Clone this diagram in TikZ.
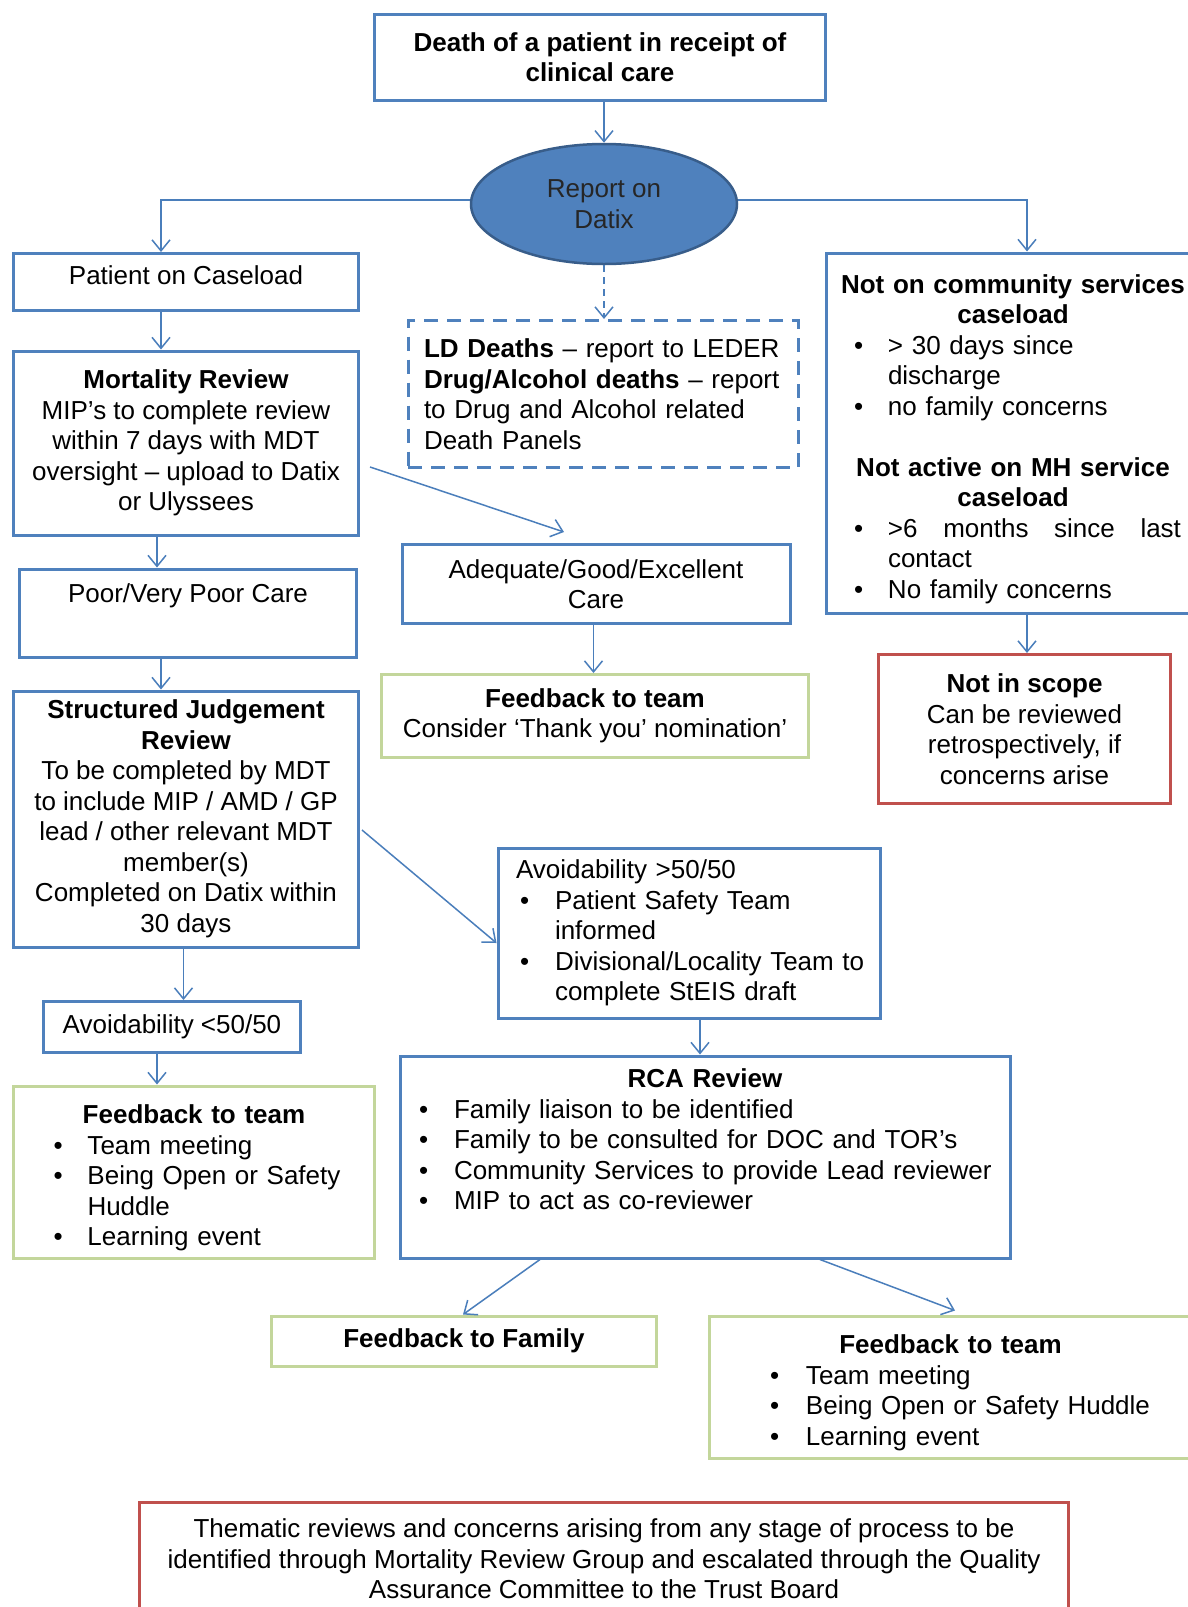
\documentclass[tikz,border=0pt]{standalone}
\usepackage{fontspec}
\setmainfont{Liberation Sans}
\usetikzlibrary{arrows.meta,shapes.geometric}
\definecolor{boxblue}{HTML}{4F81BD}
\definecolor{rimblue}{HTML}{385D8A}
\definecolor{linkblue}{HTML}{4A7EBB}
\definecolor{boxgreen}{HTML}{C3D69B}
\definecolor{boxred}{HTML}{C0504D}
\newcommand{\hd}[1]{\par{\centering\bfseries #1\par}}
\newcommand{\bul}[3]{\par\hangindent=\dimexpr#1+#2\relax\hangafter=1\noindent\hspace*{#1}\makebox[#2][l]{\textbullet}#3\par}
\begin{document}
\begin{tikzpicture}[x=1pt,y=-1pt,
  every node/.style={font=\fontsize{26}{30.5}\selectfont, inner sep=0pt},
  bbox/.style={draw=boxblue, line width=3pt, fill=white, align=center},
  gbox/.style={bbox, draw=boxgreen},
  rbox/.style={bbox, draw=boxred},
  dbox/.style={bbox, dash pattern=on 14pt off 9pt},
  lst/.style={text width=#1, align=left},
  link/.style={draw=linkblue, line width=1.5pt, -{Straight Barb[length=11pt,width=18pt]}}]
  \fill[white] (0,0) rectangle (1188,1607);
  \useasboundingbox (0,0) rectangle (1188,1607);
  \node[bbox, minimum width=451pt, minimum height=86pt] (death) at (600,57)
    {\textbf{Death of a patient in receipt of}\\\textbf{clinical care}};
  \node[ellipse, fill=boxblue, draw=rimblue, line width=2.5pt, minimum width=266pt,
    minimum height=120pt, align=center, text=black!85] (datix) at (604,204) {Report on\\Datix};
  \node[bbox, minimum width=345pt, minimum height=57pt] (caseload) at (186,282) {\raisebox{13pt}{Patient on Caseload}};
  \node[bbox, minimum width=345pt, minimum height=184pt] (mortality) at (186,443)
    {\textbf{Mortality Review}\\MIP’s to complete review\\within 7 days with MDT\\oversight – upload to Datix\\or Ulyssees};
  \node[bbox, minimum width=337pt, minimum height=88pt] (poor) at (188,613) {};
  \node[anchor=north] (poortext) at ([yshift=-16pt]poor.north) {Poor/Very Poor Care};
  \node[bbox, minimum width=345pt, minimum height=256pt] (sjr) at (186,819)
    {\textbf{Structured Judgement}\\\textbf{Review}\\To be completed by MDT\\to include MIP / AMD / GP\\lead / other relevant MDT\\member(s)\\Completed on Datix within\\30 days};
  \node[bbox, minimum width=257pt, minimum height=51pt] (avoidlow) at (172,1027) {Avoidability <50/50};
  \node[gbox, lst=361pt, minimum height=172pt] (fbleft) at (194,1172)
    {\hd{Feedback to team}\bul{40pt}{34pt}{Team meeting}\bul{40pt}{34pt}{Being Open or Safety\newline Huddle}\bul{40pt}{34pt}{Learning event}};
  \node[dbox, lst=390pt, minimum height=147pt] (ld) at (603,394)
    {\leftskip=16pt \textbf{LD Deaths} – report to LEDER\newline \textbf{Drug/Alcohol deaths} – report\newline to Drug and Alcohol related\newline Death Panels\par};
  \node[bbox, minimum width=388pt, minimum height=79pt] (adequate) at (596,584) {Adequate/Good/Excellent\\Care};
  \node[gbox, minimum width=427pt, minimum height=83pt] (fbmid) at (595,716)
    {\textbf{Feedback to team}\\Consider ‘Thank you’ nomination’};
  \node[bbox, lst=374pt, minimum height=360pt] (notcomm) at (1013,433)
    {\hd{Not on community services}\hd{caseload}\bul{28pt}{34pt}{> 30 days since\newline discharge}\bul{28pt}{34pt}{no family concerns}\vspace{30.5pt}\hd{Not active on MH service}\hd{caseload}\bul{28pt}{34pt}{\hbox to 293pt{>6\hfill months\hfill since\hfill last}\newline contact}\bul{28pt}{34pt}{No family concerns}};
  \node[rbox, minimum width=292pt, minimum height=149pt] (scope) at (1024.5,729)
    {\textbf{Not in scope}\\Can be reviewed\\retrospectively, if\\concerns arise};
  \node[bbox, lst=382pt, minimum height=170pt] (avoidhigh) at (689,933)
    {\noindent\hspace*{18pt}Avoidability >50/50\par\bul{22pt}{35pt}{Patient Safety Team\newline informed}\bul{22pt}{35pt}{Divisional/Locality Team to\newline complete StEIS draft}};
  \node[bbox, lst=610pt, minimum height=202pt] (rca) at (705,1157)
    {\hd{RCA Review}\bul{19pt}{35pt}{Family liaison to be identified}\bul{19pt}{35pt}{Family to be consulted for DOC and TOR’s}\bul{19pt}{35pt}{Community Services to provide Lead reviewer}\bul{19pt}{35pt}{MIP to act as co-reviewer}\par\noindent\rule{0pt}{46pt}\par};
  \node[gbox, minimum width=385pt, minimum height=50pt] (fbfamily) at (464,1341) {\textbf{Feedback to Family}};
  \node[gbox, lst=483pt, minimum height=142pt] (fbright) at (950.5,1387)
    {\hd{Feedback to team}\bul{61pt}{36pt}{Team meeting}\bul{61pt}{36pt}{Being Open or Safety Huddle}\bul{61pt}{36pt}{Learning event}};
  \node[rbox, minimum width=929pt, minimum height=114pt] (themes) at (604,1559)
    {Thematic reviews and concerns arising from any stage of process to be\\identified through Mortality Review Group and escalated through the Quality\\Assurance Committee to the Trust Board};
  \draw[link] (death.south -| datix.north) -- (datix.north);
  \draw[link] ([yshift=4pt]datix.west) -| ([xshift=-25pt]caseload.north);
  \draw[link] ([yshift=4pt]datix.east) -| ([xshift=14pt]notcomm.north);
  \draw[link, dash pattern=on 7pt off 5pt] (datix.south) -- (datix.south |- ld.north);
  \draw[link] ([xshift=-25pt]caseload.south) -- ([xshift=-25pt]mortality.north);
  \draw[link] ([xshift=-29pt]mortality.south) -- ([xshift=-31pt]poor.north);
  \draw[link] ([xshift=-27pt]poor.south) -- ([xshift=-25pt]sjr.north);
  \draw[link] ([xshift=-2.5pt]sjr.south) -- ([xshift=11.5pt]avoidlow.north);
  \draw[link] ([xshift=-15pt]avoidlow.south) -- ([xshift=-37pt]fbleft.north);
  \draw[link] ([xshift=10pt,yshift=-24pt]mortality.east) -- ([xshift=-32pt,yshift=11pt]adequate.north);
  \draw[link] ([xshift=-2.5pt]adequate.south) -- ([xshift=-1.5pt]fbmid.north);
  \draw[link] ([xshift=2pt,yshift=-11pt]sjr.east) -- ([yshift=-10pt]avoidhigh.west);
  \draw[link] ([xshift=11pt]avoidhigh.south) -- ([xshift=-5pt]rca.north);
  \draw[link] ([xshift=14pt]notcomm.south) -- ([xshift=2.5pt]scope.north);
  \draw[link] ([xshift=-165pt]rca.south) -- ([xshift=-1pt]fbfamily.north);
  \draw[link] ([xshift=115pt]rca.south) -- ([xshift=4.5pt,yshift=4pt]fbright.north);
\end{tikzpicture}
\end{document}
